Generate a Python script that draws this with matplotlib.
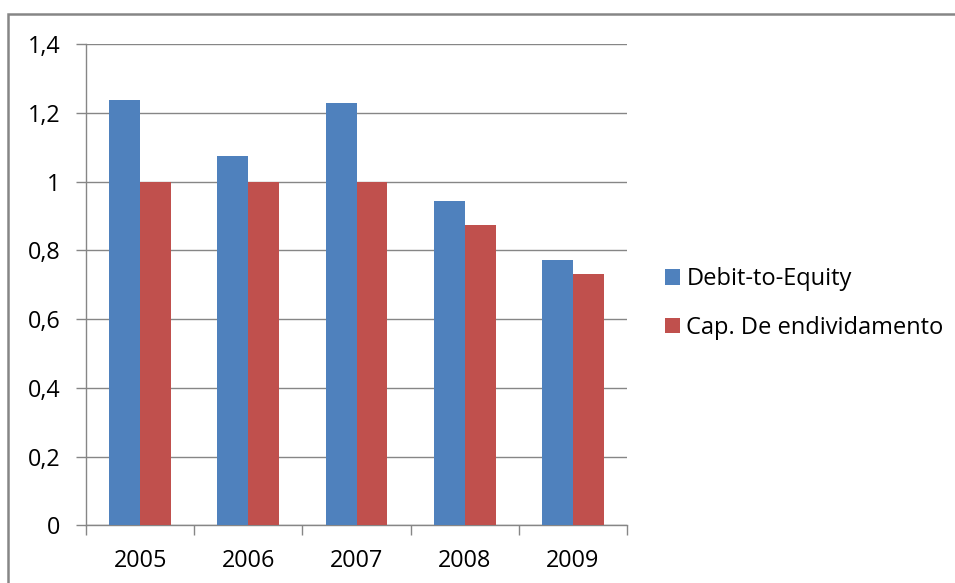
import matplotlib
matplotlib.use("Agg")
import matplotlib.pyplot as plt
import numpy as np
from matplotlib.patches import Rectangle

plt.rcParams['font.family'] = ['Open Sans', 'DejaVu Sans']

years = ["2005", "2006", "2007", "2008", "2009"]
debt_to_equity = [1.237, 1.076, 1.230, 0.943, 0.771]
cap_endividamento = [1.0, 1.0, 1.0, 0.873, 0.730]
series_labels = ["Debit-to-Equity", "Cap. De endividamento"]
yticks = [0, 0.2, 0.4, 0.6, 0.8, 1.0, 1.2, 1.4]
ytick_labels = ["0", "0,2", "0,4", "0,6", "0,8", "1", "1,2", "1,4"]

W, H = 955, 583
fig = plt.figure(figsize=(W / 100, H / 100), dpi=100)
fig.patch.set_facecolor("white")

# outer chart border
fig.patches.append(Rectangle((8 / W, -0.1), 1.2, (H - 14) / H + 0.1,
                             transform=fig.transFigure, fill=False,
                             edgecolor="#868686", linewidth=1.8))

left, right, top, bottom = 86, 627, 44.3, 525.3
ax = fig.add_axes([left / W, 1 - bottom / H, (right - left) / W, (bottom - top) / H])

x = np.arange(len(years))
bw = 0.2857
blue = "#4F81BD"
red = "#C0504D"
b1 = ax.bar(x - bw / 2, debt_to_equity, bw, color=blue, label=series_labels[0], zorder=3)
b2 = ax.bar(x + bw / 2, cap_endividamento, bw, color=red, label=series_labels[1], zorder=3)

ax.set_xlim(-0.5, len(years) - 0.5)
ax.set_ylim(0, 1.4)
ax.set_yticks(yticks)
ax.set_yticklabels(ytick_labels)
ax.yaxis.grid(True, color="#868686", linewidth=1.0, zorder=0)
ax.set_axisbelow(True)

ax.set_xticks(x)
ax.set_xticklabels(years)
ax.set_xticks(np.arange(-0.5, len(years) + 0.5, 1), minor=True)
ax.tick_params(axis="x", which="major", length=0, pad=17, labelsize=16.8, colors="#000000")
ax.tick_params(axis="x", which="minor", length=7.2, width=1.0, color="#868686")
ax.tick_params(axis="y", which="major", length=7.2, width=1.0, color="#868686",
               pad=11, labelsize=16.8)

for s in ["top", "right"]:
    ax.spines[s].set_visible(False)
for s in ["left", "bottom"]:
    ax.spines[s].set_color("#868686")
    ax.spines[s].set_linewidth(1.0)

leg = fig.legend(handles=[b1, b2], labels=series_labels, loc="upper left",
                 bbox_to_anchor=(665 / W, 1 - 267 / H), frameon=False,
                 fontsize=17, handlelength=0.65, handleheight=0.65,
                 handletextpad=0.25, labelspacing=1.05, borderaxespad=0,
                 borderpad=0)

fig.savefig("out.png", dpi=100)
